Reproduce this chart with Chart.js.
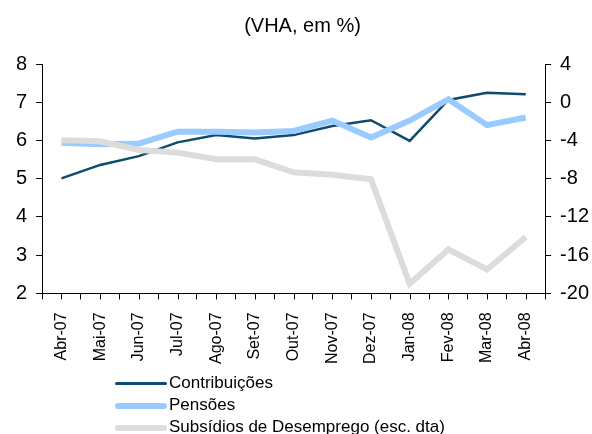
<!DOCTYPE html>
<html>
<head>
<meta charset="utf-8">
<script src="https://cdn.jsdelivr.net/npm/chart.js@4"></script>
<style>
  html, body { margin: 0; padding: 0; background: #fff; overflow: hidden; }
  #wrap { position: relative; width: 592px; height: 434px; }
  #legend { position: absolute; left: 115px; top: 372px; font-family: "Liberation Sans", Arial, sans-serif; font-size: 17px; color: #000; }
  #legend div { height: 22px; line-height: 22px; white-space: nowrap; }
  #legend span { display: inline-block; width: 52px; vertical-align: middle; margin-right: 2px; border-radius: 3px; }
</style>
</head>
<body>
<div id="wrap">
  <canvas id="chart" width="592" height="434"></canvas>
  <div id="legend"></div>
</div>
<script>
const months = ["Abr-07", "Mai-07", "Jun-07", "Jul-07", "Ago-07", "Set-07", "Out-07", "Nov-07", "Dez-07", "Jan-08", "Fev-08", "Mar-08", "Abr-08"];
const contribuicoes = [5.01, 5.36, 5.59, 5.95, 6.14, 6.05, 6.14, 6.38, 6.53, 5.99, 7.06, 7.25, 7.21];
const pensoes = [5.94, 5.90, 5.92, 6.23, 6.23, 6.21, 6.25, 6.52, 6.08, 6.52, 7.08, 6.40, 6.60];
const subsidios = [-3.97, -4.08, -5.0, -5.27, -5.97, -5.97, -7.33, -7.58, -8.07, -19.0, -15.4, -17.5, -14.1];
const leftTicks = [2, 3, 4, 5, 6, 7, 8];
const rightTicks = [-20, -16, -12, -8, -4, 0, 4];

const series = [
  { label: "Contribuições", data: contribuicoes, color: "#0f4c6b", width: 2.5, axis: "y", order: 3 },
  { label: "Pensões", data: pensoes, color: "#99cbff", width: 6, axis: "y", order: 2 },
  { label: "Subsídios de Desemprego (esc. dta)", data: subsidios, color: "#dcdcdc", width: 6, axis: "y1", order: 1 }
];

const View = {
  legend(){
    const box = document.getElementById("legend");
    series.forEach(s => {
      box.insertAdjacentHTML("beforeend",
        `<div><span style="height:${Math.max(3, s.width)}px;background:${s.color}"></span>${s.label}</div>`);
    });
  },
  chart(){
    const font = "'Liberation Sans', Arial, sans-serif";
    // small ticks at each category centre, between the offset grid ticks
    const midTicks = {
      id: "midTicks",
      afterDraw(chart){
        const x = chart.scales.x, ctx = chart.ctx;
        ctx.save();
        ctx.strokeStyle = "#000";
        ctx.lineWidth = 1;
        months.forEach((m, i) => {
          const px = Math.round(x.getPixelForValue(i)) + 0.5;
          ctx.beginPath();
          ctx.moveTo(px, x.top);
          ctx.lineTo(px, x.top + 6);
          ctx.stroke();
        });
        ctx.restore();
      }
    };
    const axisGrid = { display: true, drawOnChartArea: false, drawTicks: true, tickLength: 6, color: "#000" };
    new Chart(document.getElementById("chart"), {
      type: "line",
      data: {
        labels: months,
        datasets: series.map(s => ({
          label: s.label,
          data: s.data,
          borderColor: s.color,
          backgroundColor: s.color,
          borderWidth: s.width,
          pointRadius: 0,
          tension: 0,
          yAxisID: s.axis,
          order: s.order
        }))
      },
      options: {
        responsive: false,
        animation: false,
        layout: { padding: { left: 7, right: -6, top: 0, bottom: 57 } },
        plugins: {
          legend: { display: false },
          tooltip: { enabled: false },
          title: {
            display: true,
            text: "(VHA, em %)",
            color: "#000",
            font: { family: font, size: 20, weight: "normal" },
            padding: { top: 14, bottom: 26 }
          }
        },
        scales: {
          x: {
            offset: true,
            grid: { ...axisGrid, offset: true },
            border: { display: true, color: "#000", width: 1 },
            ticks: { color: "#000", font: { family: font, size: 16 }, maxRotation: 90, minRotation: 90, padding: 13, autoSkip: false }
          },
          y: {
            position: "left",
            min: 2, max: 8,
            afterBuildTicks: s => { s.ticks = leftTicks.map(v => ({ value: v })); },
            grid: axisGrid,
            border: { display: true, color: "#000", width: 1 },
            ticks: { color: "#000", font: { family: font, size: 20 }, padding: 9 }
          },
          y1: {
            position: "right",
            min: -20, max: 4,
            afterBuildTicks: s => { s.ticks = rightTicks.map(v => ({ value: v })); },
            grid: axisGrid,
            border: { display: true, color: "#000", width: 1 },
            ticks: { color: "#000", font: { family: font, size: 20 }, padding: 9 }
          }
        }
      },
      plugins: [midTicks]
    });
  }
};

(() => {
  View.legend();
  View.chart();
})();
</script>
</body>
</html>
